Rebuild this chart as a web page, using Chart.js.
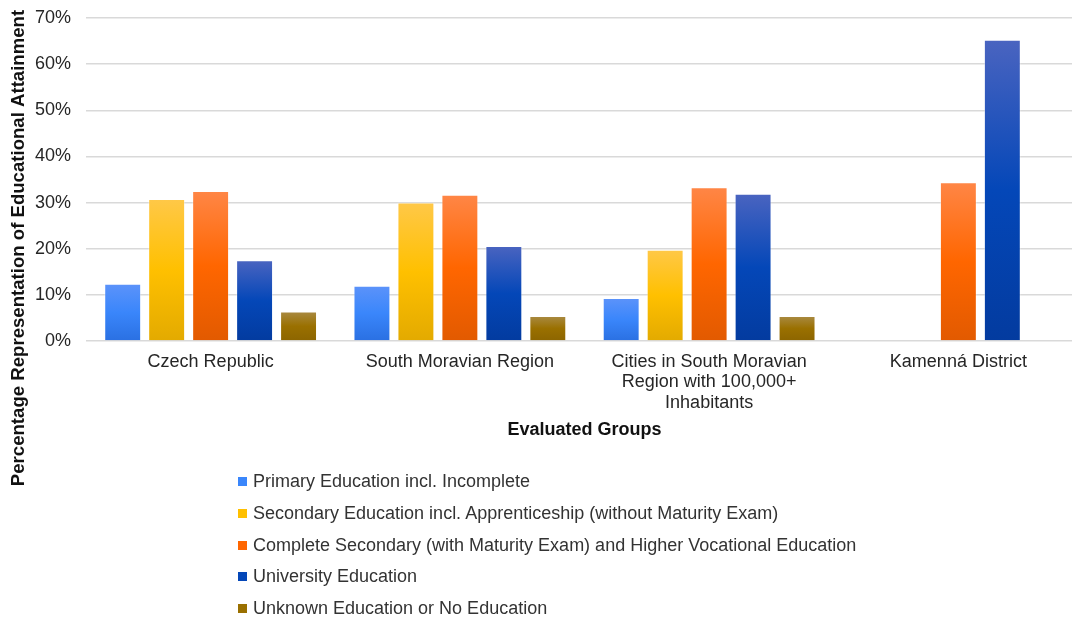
<!DOCTYPE html>
<html>
<head>
<meta charset="utf-8">
<script src="https://cdn.jsdelivr.net/npm/chart.js@4/dist/chart.umd.min.js"></script>
<style>
  html, body { margin: 0; padding: 0; background: #fff; overflow: hidden; }
  #wrap { position: relative; width: 1090px; height: 618px; }
  #legend { position: absolute; left: 238px; top: 466px; font: 18px "Liberation Sans", Arial, sans-serif; color: #333; }
  #legend div { height: 31.65px; display: flex; align-items: center; white-space: nowrap; }
  #legend span.box { width: 9px; height: 9px; margin-right: 6px; display: inline-block; }
</style>
</head>
<body>
<div id="wrap">
  <canvas id="chart" width="1090" height="618"></canvas>
  <div id="legend"></div>
</div>
<script>
const groups = ["Czech Republic", "South Moravian Region", ["Cities in South Moravian", "Region with 100,000+", "Inhabitants"], "Kamenná District"];
const seriesNames = [
  "Primary Education incl. Incomplete",
  "Secondary Education incl. Apprenticeship (without Maturity Exam)",
  "Complete Secondary (with Maturity Exam) and Higher Vocational Education",
  "University Education",
  "Unknown Education or No Education"
];
const primary = [12.4, 12.0, 9.3, null];
const secondary = [30.8, 30.0, 19.8, null];
const complete = [32.5, 31.7, 33.3, 34.4];
const university = [17.5, 20.6, 31.9, 65.3];
const unknown = [6.4, 5.4, 5.4, null];
const yTicks = [0, 10, 20, 30, 40, 50, 60, 70];

// light top / main / dark bottom per series
const shades = [
  ["#5c93fa", "#3a86fb", "#2a70e2"],
  ["#ffc848", "#ffc000", "#e3aa00"],
  ["#ff8646", "#ff6600", "#e25a00"],
  ["#4a64c0", "#0447b8", "#033b9f"],
  ["#a98a42", "#9a7000", "#8c6500"]
];

function barFill(i) {
  return ctx => {
    const c = ctx.chart, y = c.scales.y;
    if (ctx.type !== "data" || !y || ctx.raw == null) return shades[i][1];
    const top = y.getPixelForValue(ctx.raw), bot = y.getPixelForValue(0);
    if (!isFinite(top) || !isFinite(bot) || top === bot) return shades[i][1];
    const g = c.ctx.createLinearGradient(0, top, 0, bot);
    g.addColorStop(0, shades[i][0]);
    g.addColorStop(0.5, shades[i][1]);
    g.addColorStop(1, shades[i][2]);
    return g;
  };
}

const allData = [primary, secondary, complete, university, unknown];
const font = "'Liberation Sans', Arial, sans-serif";

const yTitle = {
  id: "yTitle",
  afterDraw(chart) {
    const c = chart.ctx;
    c.save();
    c.translate(19, 248);
    c.rotate(-Math.PI / 2);
    c.font = "bold 18.6px " + font;
    c.fillStyle = "#111";
    c.textAlign = "center";
    c.textBaseline = "middle";
    c.fillText("Percentage Representation of Educational Attainment", 0, 0);
    c.restore();
  }
};

new Chart(document.getElementById("chart"), {
  type: "bar",
  data: {
    labels: groups,
    datasets: allData.map((d, i) => ({
      label: seriesNames[i],
      data: d,
      backgroundColor: barFill(i),
      borderColor: "rgba(255,255,255,0.35)",
      borderWidth: 1,
      categoryPercentage: 0.882,
      barPercentage: 0.84
    }))
  },
  options: {
    responsive: false,
    animation: false,
    layout: { padding: { top: 18, right: 7, bottom: 177, left: 0 } },
    plugins: { legend: { display: false }, tooltip: { enabled: false } },
    scales: {
      x: {
        grid: { display: false },
        border: { display: false },
        ticks: { font: { family: font, size: 18, lineHeight: 1.13 }, color: "#262626", padding: 3, maxRotation: 0 },
        title: { display: true, text: "Evaluated Groups", font: { family: font, size: 18, weight: "bold" }, color: "#111", padding: { top: 0, bottom: 0 } },
        afterFit: s => { s.height = 100; }
      },
      y: {
        min: 0, max: 70,
        afterBuildTicks: s => { s.ticks = yTicks.map(v => ({ value: v })); },
        grid: { color: "#d9d9d9", lineWidth: 1.5, drawTicks: false },
        border: { display: false },
        ticks: { font: { family: font, size: 18 }, color: "#262626", padding: 15, callback: v => v + "%" },
        afterFit: s => { s.width = 86; s.paddingTop = 0; s.paddingBottom = 0; }
      }
    }
  },
  plugins: [yTitle]
});

const legend = document.getElementById("legend");
seriesNames.forEach((n, i) => {
  const row = document.createElement("div");
  const box = document.createElement("span");
  box.className = "box";
  box.style.background = shades[i][1];
  row.appendChild(box);
  row.appendChild(document.createTextNode(n));
  legend.appendChild(row);
});
</script>
</body>
</html>
